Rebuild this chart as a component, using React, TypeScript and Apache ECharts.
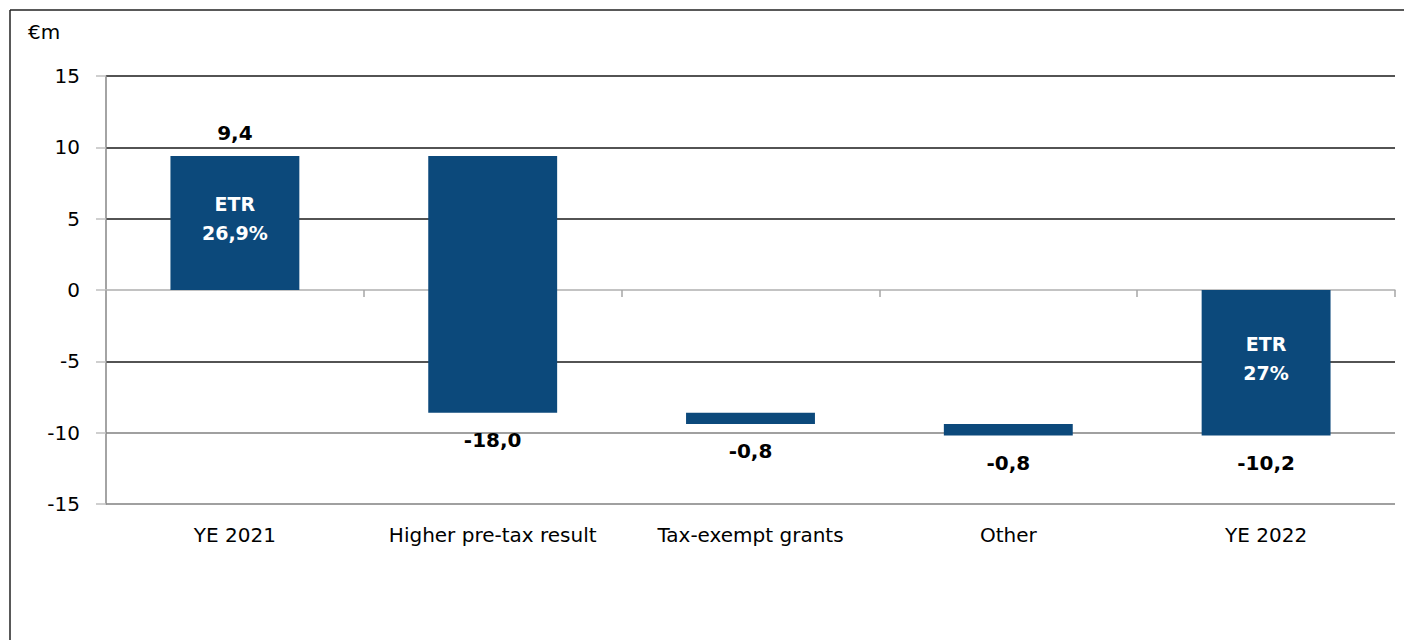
import React, { useEffect, useRef } from "react";
import * as echarts from "echarts";

const categories = ["YE 2021", "Higher pre-tax result", "Tax-exempt grants", "Other", "YE 2022"];
const changes = [9.4, -18.0, -0.8, -0.8, -10.2];
const isTotal = [true, false, false, false, true];
const innerLabels = ["ETR\n26,9%", "", "", "", "ETR\n27%"];
const yTicks = [-15, -10, -5, 0, 5, 10, 15];
const unitLabel = "€m";

const FONT = "'DejaVu Sans', 'Noto Sans', sans-serif";
const BAR = "#0c497b";

function buildRanges() {
  const out: [number, number][] = [];
  let running = 0;
  changes.forEach((v, i) => {
    if (isTotal[i]) {
      out.push([0, v]);
      running = v;
    } else {
      out.push([running, running + v]);
      running = running + v;
    }
  });
  return out;
}

export default function App() {
  const ref = useRef<HTMLDivElement>(null);
  useEffect(() => {
    if (!ref.current) return;
    const chart = echarts.init(ref.current, undefined, { renderer: "svg" });
    const ranges = buildRanges();
    const data = ranges.map((r, i) => [i, r[0], r[1], changes[i]]);
    const gridColors = ["#808080", "#808080", "#1a1a1a", "#bfbfbf", "#1a1a1a", "#1a1a1a", "#1a1a1a"];
    chart.setOption({
      animation: false,
      grid: { left: 106, right: 9, top: 76, bottom: 136, containLabel: false },
      xAxis: [
        {
          type: "category",
          data: categories,
          axisLine: { onZero: true, lineStyle: { color: "#bfbfbf", width: 1.5 } },
          axisTick: { show: true, inside: false, length: 7, lineStyle: { color: "#a6a6a6", width: 1.5 } },
          axisLabel: { show: false },
          splitLine: { show: false },
        },
        {
          type: "category",
          data: categories,
          position: "bottom",
          axisLine: { show: false, onZero: false },
          axisTick: { show: false },
          axisLabel: { show: true, interval: 0, margin: 21, color: "#000", fontFamily: FONT, fontSize: 20 },
        },
      ],
      yAxis: {
        type: "value",
        min: yTicks[0],
        max: yTicks[yTicks.length - 1],
        interval: 5,
        axisLine: { show: true, lineStyle: { color: "#868686", width: 1.5 } },
        axisTick: { show: true, length: 10, lineStyle: { color: "#bfbfbf", width: 1.5 } },
        axisLabel: { color: "#000", fontFamily: FONT, fontSize: 20, margin: 26 },
        splitLine: { show: true, lineStyle: { color: gridColors, width: 1.5 } },
      },
      graphic: [
        { type: "line", shape: { x1: 10, y1: 10, x2: 1404, y2: 10 }, style: { stroke: "#222", lineWidth: 1.5 } },
        { type: "line", shape: { x1: 10, y1: 10, x2: 10, y2: 640 }, style: { stroke: "#222", lineWidth: 1.5 } },
        {
          type: "text",
          left: 28,
          top: 22,
          style: { text: unitLabel, fontFamily: FONT, fontSize: 20, fill: "#000" },
        },
      ],
      series: [
        {
          type: "custom",
          xAxisIndex: 0,
          data,
          renderItem: (params: any, api: any) => {
            const idx = api.value(0);
            const start = api.value(1);
            const end = api.value(2);
            const val = api.value(3);
            const p1 = api.coord([idx, start]);
            const p2 = api.coord([idx, end]);
            const w = api.size([1, 0])[0] * 0.5;
            const top = Math.min(p1[1], p2[1]);
            const bottom = Math.max(p1[1], p2[1]);
            const cx = p1[0];
            const label = val.toFixed(1).replace(".", ",");
            const children: any[] = [
              {
                type: "rect",
                shape: { x: cx - w / 2, y: top, width: w, height: bottom - top },
                style: { fill: BAR },
              },
            ];
            if (val >= 0) {
              children.push({
                type: "text",
                style: {
                  text: label, x: cx, y: top - 13, align: "center", verticalAlign: "bottom",
                  fontFamily: FONT, fontSize: 20, fontWeight: "bold", fill: "#000",
                },
              });
            } else {
              children.push({
                type: "text",
                style: {
                  text: label, x: cx, y: bottom + 17, align: "center", verticalAlign: "top",
                  fontFamily: FONT, fontSize: 20, fontWeight: "bold", fill: "#000",
                },
              });
            }
            const inner = innerLabels[idx];
            if (inner) {
              children.push({
                type: "text",
                style: {
                  text: inner, x: cx, y: (top + bottom) / 2 - 4, align: "center", verticalAlign: "middle",
                  fontFamily: FONT, fontSize: 19, fontWeight: "bold", fill: "#fff", lineHeight: 29,
                },
              });
            }
            return { type: "group", children };
          },
        },
      ],
    });
    return () => chart.dispose();
  }, []);
  return <div ref={ref} style={{ position: "fixed", left: 0, top: 0, width: 1404, height: 640, background: "#fff" }} />;
}
